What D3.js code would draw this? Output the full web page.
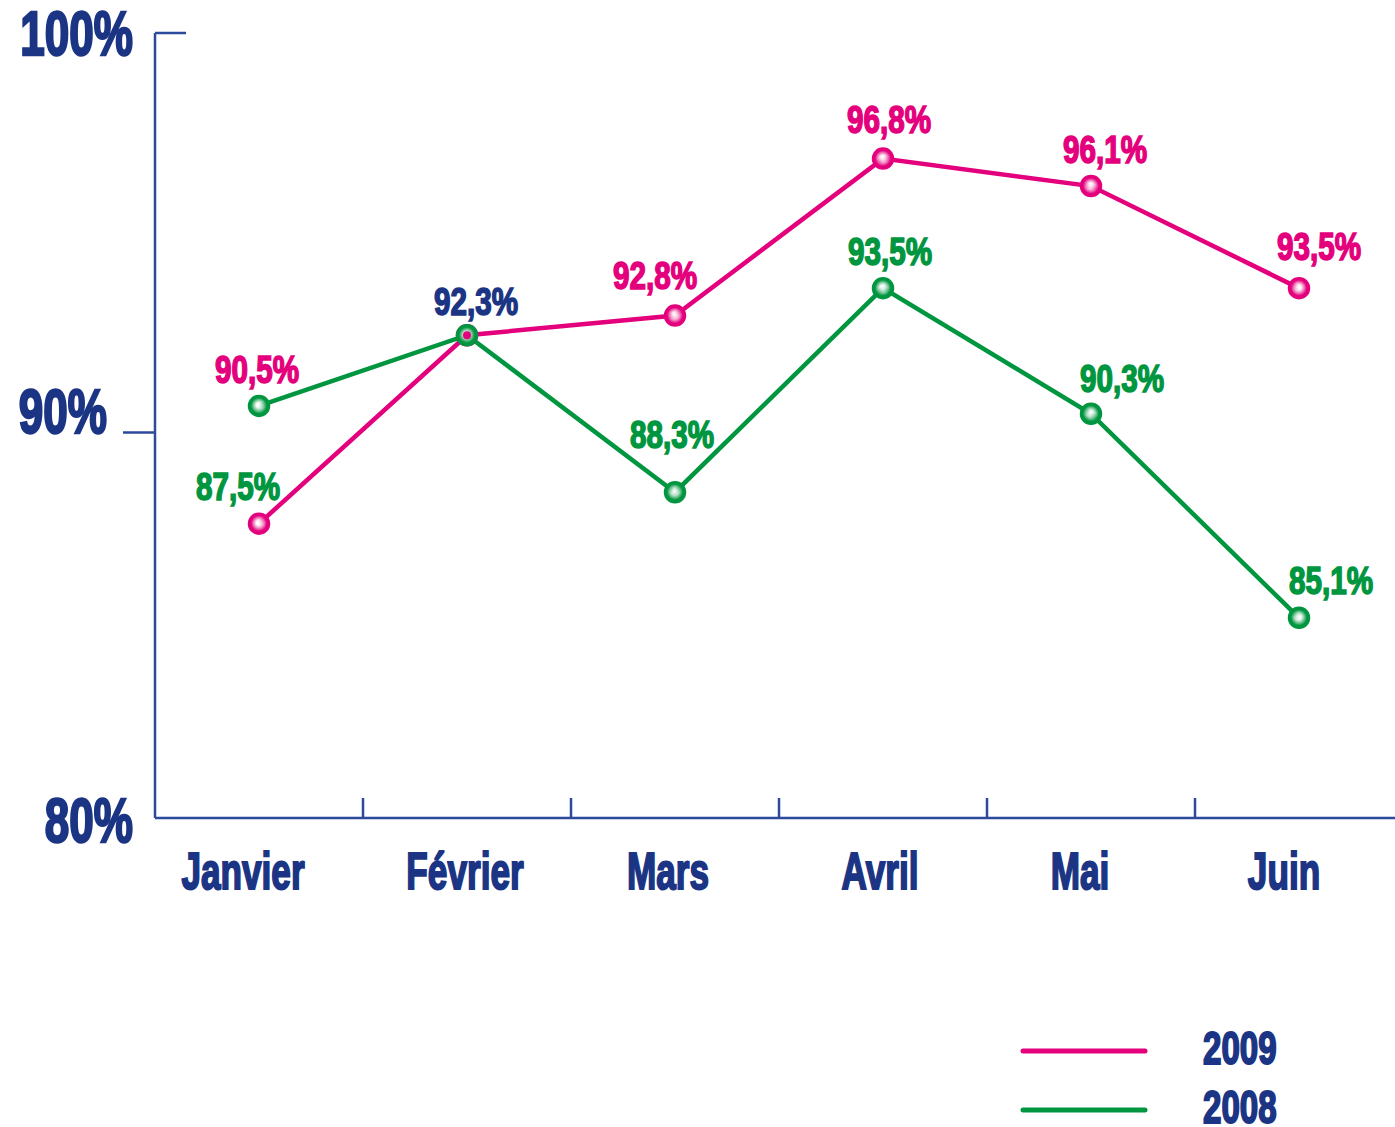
<!DOCTYPE html>
<html>
<head>
<meta charset="utf-8">
<script src="https://cdn.jsdelivr.net/npm/d3@7"></script>
<style>
  body { margin: 0; background: #fff; }
  svg { display: block; }
  text { font-family: "Liberation Sans Narrow", "Arial Narrow", "Liberation Sans", sans-serif; font-weight: bold; }
</style>
</head>
<body>
<div class="chart"></div>
<script>
// data
var months = ["Janvier", "Février", "Mars", "Avril", "Mai", "Juin"];
var values2009 = [87.5, 92.3, 92.8, 96.8, 96.1, 93.5];
var values2008 = [90.5, 92.3, 88.3, 93.5, 90.3, 85.1];
var yTicks = [80, 90, 100];
var legendYears = ["2009", "2008"];

// value labels as printed on the original (colour key per label)
var labelMonth = ["Janvier", "Janvier", "Février", "Mars", "Mars", "Avril", "Avril", "Mai", "Mai", "Juin", "Juin"];
var labelValue = [90.5, 87.5, 92.3, 92.8, 88.3, 96.8, 93.5, 96.1, 90.3, 93.5, 85.1];
var labelKey   = ["2009", "2008", "both", "2009", "2008", "2009", "2008", "2009", "2008", "2009", "2008"];

var pink = "#e4007c", green = "#009640", navy = "#1b3584", axisCol = "#2c4a9c";
var colour = { "2009": pink, "2008": green, "both": navy };

// small hand nudges, the original places its labels by eye
var labelNudge = [[-2, -23], [-21, -24], [9, -20], [-20, -27], [-3, -44], [6, -26], [7, -23], [14, -23], [31, -22], [20, -28], [32, -24]];
var monthNudge = [-16, -2, -7, -3, -11, -15];

var w = 1395, h = 1127;

var svg = d3.select('.chart').append('svg')
  .attr('width', w)
  .attr('height', h);

var x = d3.scaleBand().domain(months).range([155, 1403]);
var y = d3.scaleLinear().domain([80, 100]).range([818, 33]);
var cx = function(m){ return x(m) + x.bandwidth() / 2; };

// gradients for the ball markers
var defs = svg.append('defs');
[["g2009", pink], ["g2008", green]].forEach(function(g){
  var rg = defs.append('radialGradient').attr('id', g[0])
    .attr('cx', '50%').attr('cy', '50%').attr('r', '50%')
    .attr('fx', '48%').attr('fy', '45%');
  rg.append('stop').attr('offset', '0%').attr('stop-color', '#ffffff');
  rg.append('stop').attr('offset', '20%').attr('stop-color', '#ffffff').attr('stop-opacity', 0.85);
  rg.append('stop').attr('offset', '75%').attr('stop-color', g[1]);
  rg.append('stop').attr('offset', '100%').attr('stop-color', g[1]);
});

// scaled text helper (the original font is a very condensed black face)
function label(sel, tx, ty, sx){
  return sel.append('text')
    .attr('transform', 'translate(' + tx + ',' + ty + ') scale(' + sx + ',1)');
}

// axes
var axis = svg.append('g')
  .attr('stroke', axisCol)
  .attr('stroke-width', 2.5)
  .attr('fill', 'none');

axis.append('line')
  .attr('x1', 155).attr('x2', 155)
  .attr('y1', y(100)).attr('y2', y(80));
axis.append('line')
  .attr('x1', 155).attr('x2', w)
  .attr('y1', y(80)).attr('y2', y(80));
// top tick points right, middle tick points left (drawn a bit low, as on the original)
axis.append('line')
  .attr('x1', 155).attr('x2', 186)
  .attr('y1', y(100)).attr('y2', y(100));
axis.append('line')
  .attr('x1', 123).attr('x2', 155)
  .attr('y1', y(90) + 7).attr('y2', y(90) + 7);

axis.selectAll('.xtick').data(months.slice(1))
  .enter().append('line')
  .attr('x1', function(d){ return x(d); })
  .attr('x2', function(d){ return x(d); })
  .attr('y1', y(80)).attr('y2', y(80) - 20);

// y tick labels
yTicks.forEach(function(t){
  var tx = t === 90 ? 107 : 133;
  var ty = t === 90 ? y(90) + 7 : (t === 100 ? y(t) + 22 : y(t) + 24);
  label(svg, tx, ty, 0.7)
    .attr('text-anchor', 'end')
    .attr('font-size', 63)
    .attr('fill', navy)
    .attr('stroke', navy).attr('stroke-width', 2.5)
    .text(t + '%');
});

// month labels
months.forEach(function(m, i){
  label(svg, cx(m) + monthNudge[i], 889, 0.69)
    .attr('text-anchor', 'middle')
    .attr('font-size', 51)
    .attr('fill', navy)
    .attr('stroke', navy).attr('stroke-width', 2)
    .text(m);
});

// lines
var line = d3.line()
  .x(function(d, i){ return cx(months[i]); })
  .y(function(d){ return y(d); });

svg.append('path').datum(values2009)
  .attr('d', line)
  .attr('fill', 'none')
  .attr('stroke', pink)
  .attr('stroke-width', 4.5);

svg.append('path').datum(values2008)
  .attr('d', line)
  .attr('fill', 'none')
  .attr('stroke', green)
  .attr('stroke-width', 4.5);

// markers
svg.selectAll('.m2009').data(values2009)
  .enter().append('circle')
  .attr('cx', function(d, i){ return cx(months[i]); })
  .attr('cy', function(d){ return y(d); })
  .attr('r', 10.5)
  .attr('fill', 'url(#g2009)')
  .attr('stroke', pink).attr('stroke-width', 1.5);

svg.selectAll('.m2008').data(values2008)
  .enter().append('circle')
  .attr('cx', function(d, i){ return cx(months[i]); })
  .attr('cy', function(d){ return y(d); })
  .attr('r', 10.5)
  .attr('fill', 'url(#g2008)')
  .attr('stroke', green).attr('stroke-width', 1.5);

// where both years meet, the pink ball shows as a dot inside the green one
svg.selectAll('.shared').data(values2009.map(function(d, i){ return { i: i, v: d }; })
    .filter(function(d){ return d.v === values2008[d.i]; }))
  .enter().append('circle')
  .attr('cx', function(d){ return cx(months[d.i]); })
  .attr('cy', function(d){ return y(d.v); })
  .attr('r', 4)
  .attr('fill', pink);

// value labels
labelValue.forEach(function(v, i){
  var c = colour[labelKey[i]];
  label(svg, cx(labelMonth[i]) + labelNudge[i][0], y(v) + labelNudge[i][1], 0.78)
    .attr('text-anchor', 'middle')
    .attr('font-size', 38)
    .attr('fill', c)
    .attr('stroke', c).attr('stroke-width', 1.6)
    .text(v.toFixed(1).replace('.', ',') + '%');
});

// legend
legendYears.forEach(function(yr, i){
  var ly = 1051 + i * 59;
  svg.append('line')
    .attr('x1', 1023).attr('x2', 1145)
    .attr('y1', ly).attr('y2', ly)
    .attr('stroke', colour[yr])
    .attr('stroke-width', 5)
    .attr('stroke-linecap', 'round');
  label(svg, 1203, ly + 13, 0.72)
    .attr('font-size', 46)
    .attr('fill', navy)
    .attr('stroke', navy).attr('stroke-width', 2)
    .text(yr);
});
</script>
</body>
</html>
